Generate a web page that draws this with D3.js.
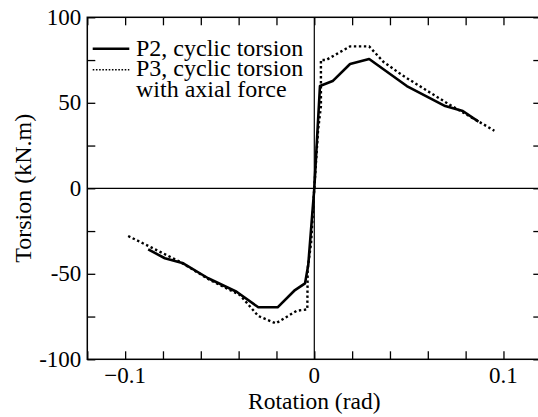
<!DOCTYPE html>
<html>
<head>
<meta charset="utf-8">
<script src="https://cdn.jsdelivr.net/npm/d3@7"></script>
<style>
  html, body { margin: 0; padding: 0; background: #fff; overflow: hidden; }
</style>
</head>
<body>
<div id="chart"></div>
<script>
// P2, cyclic torsion (envelope)
const p2Rotation = [-0.0878, -0.0790, -0.0693, -0.0561, -0.0411, -0.0296, -0.0194, -0.0102, -0.0049, -0.0032, 0, 0.0030, 0.0097, 0.0189, 0.0290, 0.0489, 0.0692, 0.0785, 0.0868];
const p2Torsion = [-35.7, -40.9, -43.9, -52.6, -60.5, -69.6, -69.6, -59.5, -55.6, -44.9, 0, 59.8, 62.7, 72.7, 75.6, 59.8, 48.1, 45.2, 39.0];

// P3, cyclic torsion with axial force
const p3Rotation = [-0.0984, -0.0869, -0.0711, -0.0552, -0.0393, -0.0296, -0.0203, -0.0093, -0.0037, -0.0035, -0.0017, 0, 0.0020, 0.0035, 0.0035, 0.0062, 0.0189, 0.0290, 0.0365, 0.0468, 0.0718, 0.0952];
const p3Torsion = [-27.9, -34.2, -42.9, -53.6, -62.4, -74.7, -79.0, -71.6, -70.8, -47.0, -32.0, 0, 34.0, 48.0, 75.0, 75.0, 83.0, 83.0, 74.0, 65.9, 48.7, 33.7];

const xTicks = [-0.12, -0.1, -0.08, -0.06, -0.04, -0.02, 0, 0.02, 0.04, 0.06, 0.08, 0.1, 0.12];
const xLabels = [-0.1, 0, 0.1];
const yTicks = [-100, -75, -50, -25, 0, 25, 50, 75, 100];
const yLabels = [-100, -50, 0, 50, 100];
const legendLabels = [['P2, cyclic torsion'], ['P3, cyclic torsion', 'with axial force']];

const attrs = (options = {}) => s =>
  Object.keys(options).forEach(key => s.attr(key, options[key]));

const FONT = '"Liberation Serif", "Times New Roman", "DejaVu Serif", serif';
const W = 538, H = 417;
const margin = { top: 17.3, left: 87.3 };
const width = 454, height = 342;
const tickLen = 8;

const svg = d3.select('#chart')
  .append('svg')
  .attr('width', W)
  .attr('height', H)
  .style('font-family', FONT);

const g = svg.append('g')
  .attr('transform', `translate(${margin.left}, ${margin.top})`);

const x = d3.scaleLinear().domain([-0.12, 0.12]).range([0, width]);
const y = d3.scaleLinear().domain([-100, 100]).range([height, 0]);

// ticks, pointing inward on all four sides
const inward = (axis, transform) => g.append('g')
  .attr('transform', transform)
  .call(axis.tickSize(-tickLen).tickFormat(''))
  .call(a => a.select('.domain').remove());

inward(d3.axisBottom(x).tickValues(xTicks), `translate(0, ${height})`);
inward(d3.axisTop(x).tickValues(xTicks), 'translate(0, 0)');
inward(d3.axisLeft(y).tickValues(yTicks), 'translate(0, 0)');
inward(d3.axisRight(y).tickValues(yTicks), `translate(${width}, 0)`);
g.selectAll('.tick line').attr('stroke', '#000').attr('stroke-width', 1.3);

const label = (sel, size) => sel
  .style('font-family', FONT)
  .style('font-size', `${size}px`)
  .attr('fill', '#000');

// tick labels
g.selectAll('.xlab')
  .data(xLabels)
  .join('text')
  .attr('x', d => x(d))
  .attr('y', height + 23.5)
  .attr('text-anchor', 'middle')
  .call(label, 23)
  .text(d => (d === 0 ? '0' : d3.format('.1f')(d)));

g.selectAll('.ylab')
  .data(yLabels)
  .join('text')
  .attr('x', -6)
  .attr('y', d => y(d) + 7.5)
  .attr('text-anchor', 'end')
  .call(label, 23)
  .text(d => d);

// zero lines
g.append('line')
  .call(attrs({ x1: 0, x2: width, y1: y(0), y2: y(0), stroke: '#000', 'stroke-width': 1.2 }));
g.append('line')
  .call(attrs({ x1: x(0), x2: x(0), y1: 0, y2: height, stroke: '#000', 'stroke-width': 1.2 }));

// frame
g.append('rect')
  .call(attrs({ x: 0, y: 0, width, height, fill: 'none', stroke: '#000', 'stroke-width': 1.5 }));

// curves
const line = d3.line().x(d => x(d[0])).y(d => y(d[1]));
const p2 = p2Rotation.map((r, i) => [r, p2Torsion[i]]);
const p3 = p3Rotation.map((r, i) => [r, p3Torsion[i]]);

g.append('path')
  .datum(p3)
  .call(attrs({ d: line, fill: 'none', stroke: '#000', 'stroke-width': 2.4, 'stroke-dasharray': '2.4,2.6' }));
g.append('path')
  .datum(p2)
  .call(attrs({ d: line, fill: 'none', stroke: '#000', 'stroke-width': 2.6, 'stroke-linejoin': 'round' }));

// legend
const legend = g.append('g').attr('transform', 'translate(5.4, 31.4)');
legend.append('line')
  .call(attrs({ x1: 0, x2: 36.6, y1: 0, y2: 0, stroke: '#000', 'stroke-width': 2.6 }));
legend.append('line')
  .call(attrs({ x1: 0, x2: 36.6, y1: 21, y2: 21, stroke: '#000', 'stroke-width': 1.6, 'stroke-dasharray': '1.6,1.6' }));
legendLabels.forEach((lines, i) => {
  const t = legend.append('text')
    .attr('x', 43.3)
    .attr('y', i * 20.5 + 7)
    .call(label, 24);
  lines.forEach((s, j) => t.append('tspan').attr('x', 43.3).attr('dy', j ? 20.5 : 0).text(s));
});

// axis titles
svg.append('text')
  .attr('x', margin.left + x(0))
  .attr('y', 409)
  .attr('text-anchor', 'middle')
  .call(label, 23.5)
  .text('Rotation (rad)');

svg.append('text')
  .attr('transform', `translate(31, ${margin.top + y(0)}) rotate(-90)`)
  .attr('text-anchor', 'middle')
  .call(label, 24)
  .text('Torsion (kN.m)');
</script>
</body>
</html>
